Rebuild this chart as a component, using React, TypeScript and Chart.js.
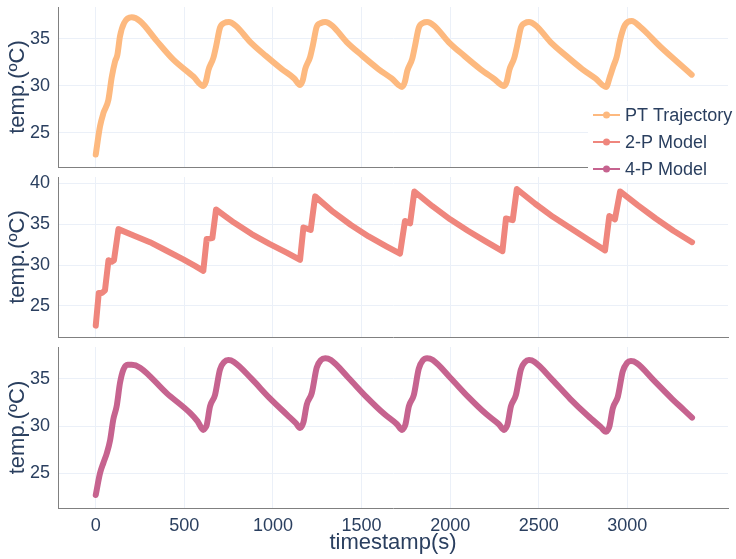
import React, { useEffect, useRef } from 'react';
import { Chart, registerables } from 'chart.js';

Chart.register(...registerables);

const FONT_FAMILY = '"Liberation Sans", Arial, Helvetica, sans-serif';
const TEXT_COLOR = '#2a3f5f';
const GRID_COLOR = '#ebf0f8';
const AXIS_COLOR = '#808080';

const seriesNames = ['PT Trajectory', '2-P Model', '4-P Model'];
const seriesColors = ['#fdb97f', '#ef867d', '#c6638f'];

const xTickValues = [0, 500, 1000, 1500, 2000, 2500, 3000];
const yTicksTop = [25, 30, 35];
const yTicksMid = [25, 30, 35, 40];
const yTicksBottom = [25, 30, 35];
const yTitleText = 'temp.(ºC)';
const xTitleText = 'timestamp(s)';

// PT Trajectory
const ptTime = [
  0, 24, 43, 71, 90, 109, 122, 137, 160, 203, 250, 344, 438, 551, 607,
  622, 636, 664, 680, 701, 725, 752, 790, 871, 960, 1050, 1120, 1153,
  1168, 1182, 1210, 1226, 1247, 1271, 1295, 1335, 1415, 1505, 1595, 1670, 1729,
  1744, 1758, 1786, 1802, 1823, 1847, 1870, 1910, 1990, 2080, 2170, 2245, 2305,
  2320, 2334, 2362, 2378, 2399, 2423, 2445, 2485, 2565, 2655, 2745, 2820, 2880,
  2902, 2921, 2940, 2959, 2987, 3025, 3072, 3185, 3279, 3363,
];
const ptTemp = [
  22.7, 25.7, 27.1, 28.5, 30.9, 32.6, 33.3, 35.3, 36.7, 37.3, 36.9, 34.8, 32.8, 31.0, 30.0,
  30.5, 31.7, 33.0, 34.3, 36.2, 36.7, 36.8, 36.4, 34.7, 33.2, 31.8, 30.8, 30.1,
  30.6, 31.8, 33.1, 34.4, 36.3, 36.7, 36.8, 36.4, 34.7, 33.2, 31.8, 30.8, 29.9,
  30.4, 31.6, 32.9, 34.3, 36.2, 36.7, 36.8, 36.4, 34.7, 33.2, 31.8, 30.8, 30.0,
  30.5, 31.7, 33.0, 34.3, 36.2, 36.7, 36.8, 36.4, 34.7, 33.2, 31.8, 30.8, 29.9,
  31.0, 32.1, 33.1, 34.9, 36.5, 36.9, 36.3, 34.2, 32.6, 31.2,
];

// 2-P Model
const twoPTime = [
  0, 17, 35, 52, 72, 90, 103, 128, 217, 306, 400, 494, 560, 607,
  626, 658, 679, 780, 880, 980, 1080, 1153,
  1172, 1213, 1238, 1340, 1440, 1540, 1640, 1717,
  1745, 1774, 1798, 1900, 2000, 2100, 2200, 2295,
  2315, 2353, 2376, 2480, 2580, 2680, 2780, 2874,
  2898, 2930, 2959, 3060, 3160, 3260, 3365,
];
const twoPTemp = [
  22.6, 26.6, 26.6, 26.9, 30.6, 30.4, 30.6, 34.4, 33.6, 32.8, 31.75, 30.7, 29.9, 29.3,
  33.2, 33.3, 36.8, 35.2, 33.8, 32.6, 31.5, 30.65,
  34.6, 34.3, 38.4, 36.5, 34.9, 33.5, 32.3, 31.4,
  35.4, 35.1, 39.0, 37.2, 35.6, 34.2, 32.9, 31.7,
  35.7, 35.5, 39.3, 37.5, 35.9, 34.5, 33.1, 31.8,
  36.0, 35.6, 39.0, 37.3, 35.7, 34.2, 32.8,
];

// 4-P Model
const fourPTime = [
  0, 24, 43, 62, 81, 99, 118, 137, 156, 180, 203, 250, 400, 532, 575, 607,
  617, 626, 645, 673, 701, 725, 748, 780, 880, 980, 1080, 1130, 1153,
  1163, 1172, 1191, 1219, 1247, 1271, 1295, 1327, 1427, 1527, 1627, 1700, 1729,
  1739, 1748, 1767, 1795, 1823, 1847, 1870, 1902, 2002, 2102, 2202, 2275, 2305,
  2315, 2324, 2343, 2371, 2399, 2423, 2445, 2477, 2577, 2677, 2777, 2850, 2880,
  2890, 2899, 2918, 2946, 2974, 2998, 3020, 3052, 3152, 3252, 3320, 3365,
];
const fourPTemp = [
  22.7, 25.0, 26.1, 27.1, 28.5, 30.7, 32.1, 34.6, 36.0, 36.5, 36.5, 36.2, 33.5, 31.4, 30.5, 29.6,
  29.8, 30.1, 32.1, 33.3, 36.0, 36.8, 37.0, 36.8, 35.0, 33.0, 31.2, 30.3, 29.8,
  30.0, 30.4, 32.3, 33.5, 36.2, 37.0, 37.2, 37.0, 35.1, 33.1, 31.3, 30.2, 29.6,
  29.8, 30.2, 32.1, 33.3, 36.1, 37.0, 37.2, 37.0, 35.1, 33.1, 31.3, 30.2, 29.6,
  29.8, 30.2, 32.1, 33.3, 36.0, 36.8, 37.0, 36.8, 34.9, 32.9, 31.1, 29.9, 29.4,
  29.6, 30.0, 31.9, 33.1, 35.8, 36.7, 36.9, 36.7, 34.8, 32.9, 31.7, 30.9,
];

const X_MIN = -213;
const X_MAX = 3568;

type PanelSpec = {
  time: number[];
  temp: number[];
  colorIndex: number;
  smooth: boolean;
  yMin: number;
  yMax: number;
  yTicks: number[];
  canvasTop: number;
  canvasHeight: number;
  xAxisHeight: number;
  showXLabels: boolean;
  showLegend: boolean;
  z: number;
};

const legendPlugin = {
  id: 'plotlyLegend',
  afterDraw(chart: any) {
    const ctx = chart.ctx as CanvasRenderingContext2D;
    ctx.save();
    ctx.fillStyle = '#ffffff';
    ctx.fillRect(588, 101, 148, 82);
    const rows = [115, 142, 169];
    seriesNames.forEach((name, i) => {
      const y = rows[i];
      ctx.strokeStyle = seriesColors[i];
      ctx.lineWidth = 2;
      ctx.beginPath();
      ctx.moveTo(593, y);
      ctx.lineTo(620, y);
      ctx.stroke();
      ctx.fillStyle = seriesColors[i];
      ctx.beginPath();
      ctx.arc(606.5, y, 3.5, 0, Math.PI * 2);
      ctx.fill();
      ctx.fillStyle = TEXT_COLOR;
      ctx.font = `18px ${FONT_FAMILY}`;
      ctx.textAlign = 'left';
      ctx.textBaseline = 'middle';
      ctx.fillText(name, 625, y + 1);
    });
    ctx.restore();
  },
};

function buildConfig(spec: PanelSpec): any {
  const color = seriesColors[spec.colorIndex];
  return {
    type: 'line',
    data: {
      datasets: [
        {
          label: seriesNames[spec.colorIndex],
          data: spec.time.map((t, i) => ({ x: t, y: spec.temp[i] })),
          borderColor: color,
          backgroundColor: color,
          borderWidth: 6,
          pointRadius: 0,
          fill: false,
          borderCapStyle: 'round',
          borderJoinStyle: 'round',
          cubicInterpolationMode: spec.smooth ? 'monotone' : 'default',
          tension: 0,
        },
      ],
    },
    options: {
      animation: false,
      responsive: false,
      devicePixelRatio: 1,
      events: [],
      layout: { padding: { top: 7, right: 8, left: 0, bottom: 0 } },
      plugins: {
        legend: { display: false },
        tooltip: { enabled: false },
      },
      scales: {
        x: {
          type: 'linear',
          min: X_MIN,
          max: X_MAX,
          afterBuildTicks: (s: any) => {
            s.ticks = xTickValues.map((v) => ({ value: v }));
          },
          afterFit: (s: any) => {
            s.height = spec.xAxisHeight;
            s.paddingLeft = 0;
            s.paddingRight = 0;
            s.paddingTop = 0;
            s.paddingBottom = 0;
          },
          grid: { color: GRID_COLOR, lineWidth: 1, drawTicks: false },
          border: { display: true, color: AXIS_COLOR, width: 1 },
          ticks: {
            display: spec.showXLabels,
            color: TEXT_COLOR,
            font: { family: FONT_FAMILY, size: 18 },
            padding: 7,
            maxRotation: 0,
            autoSkip: false,
            callback: (v: any) => String(v),
          },
          title: {
            display: spec.showXLabels,
            text: xTitleText,
            color: TEXT_COLOR,
            font: { family: FONT_FAMILY, size: 22 },
            padding: { top: 0, bottom: 3 },
          },
        },
        y: {
          type: 'linear',
          min: spec.yMin,
          max: spec.yMax,
          afterBuildTicks: (s: any) => {
            s.ticks = spec.yTicks.map((v) => ({ value: v }));
          },
          afterFit: (s: any) => {
            s.width = 58;
            s.paddingLeft = 0;
            s.paddingRight = 0;
            s.paddingTop = 0;
            s.paddingBottom = 0;
          },
          grid: { color: GRID_COLOR, lineWidth: 1, drawTicks: false },
          border: { display: true, color: AXIS_COLOR, width: 1 },
          ticks: {
            color: TEXT_COLOR,
            font: { family: FONT_FAMILY, size: 18 },
            padding: 8,
            callback: (v: any) => String(v),
          },
          title: {
            display: true,
            text: yTitleText,
            color: TEXT_COLOR,
            font: { family: FONT_FAMILY, size: 22 },
            padding: { top: 5, bottom: 0 },
          },
        },
      },
    },
    plugins: spec.showLegend ? [legendPlugin] : [],
  };
}

const panels: PanelSpec[] = [
  {
    time: ptTime, temp: ptTemp, colorIndex: 0, smooth: true,
    yMin: 21.38, yMax: 38.4, yTicks: yTicksTop,
    canvasTop: 0, canvasHeight: 190, xAxisHeight: 23,
    showXLabels: false, showLegend: true, z: 3,
  },
  {
    time: twoPTime, temp: twoPTemp, colorIndex: 1, smooth: false,
    yMin: 21.21, yMax: 40.77, yTicks: yTicksMid,
    canvasTop: 170, canvasHeight: 170, xAxisHeight: 3,
    showXLabels: false, showLegend: false, z: 2,
  },
  {
    time: fourPTime, temp: fourPTemp, colorIndex: 2, smooth: true,
    yMin: 21.32, yMax: 38.39, yTicks: yTicksBottom,
    canvasTop: 340, canvasHeight: 219, xAxisHeight: 51,
    showXLabels: true, showLegend: false, z: 1,
  },
];

function Panel({ spec }: { spec: PanelSpec }) {
  const ref = useRef<HTMLCanvasElement | null>(null);
  useEffect(() => {
    if (!ref.current) return;
    const chart = new Chart(ref.current, buildConfig(spec));
    return () => chart.destroy();
  }, [spec]);
  return (
    <canvas
      ref={ref}
      width={736}
      height={spec.canvasHeight}
      style={{
        position: 'absolute',
        left: 0,
        top: spec.canvasTop,
        width: 736,
        height: spec.canvasHeight,
        zIndex: spec.z,
        display: 'block',
      }}
    />
  );
}

export default function App() {
  return (
    <div
      style={{
        position: 'absolute',
        left: 0,
        top: 0,
        width: 736,
        height: 559,
        background: '#ffffff',
        overflow: 'hidden',
      }}
    >
      {panels.map((p, i) => (
        <Panel key={i} spec={p} />
      ))}
    </div>
  );
}
